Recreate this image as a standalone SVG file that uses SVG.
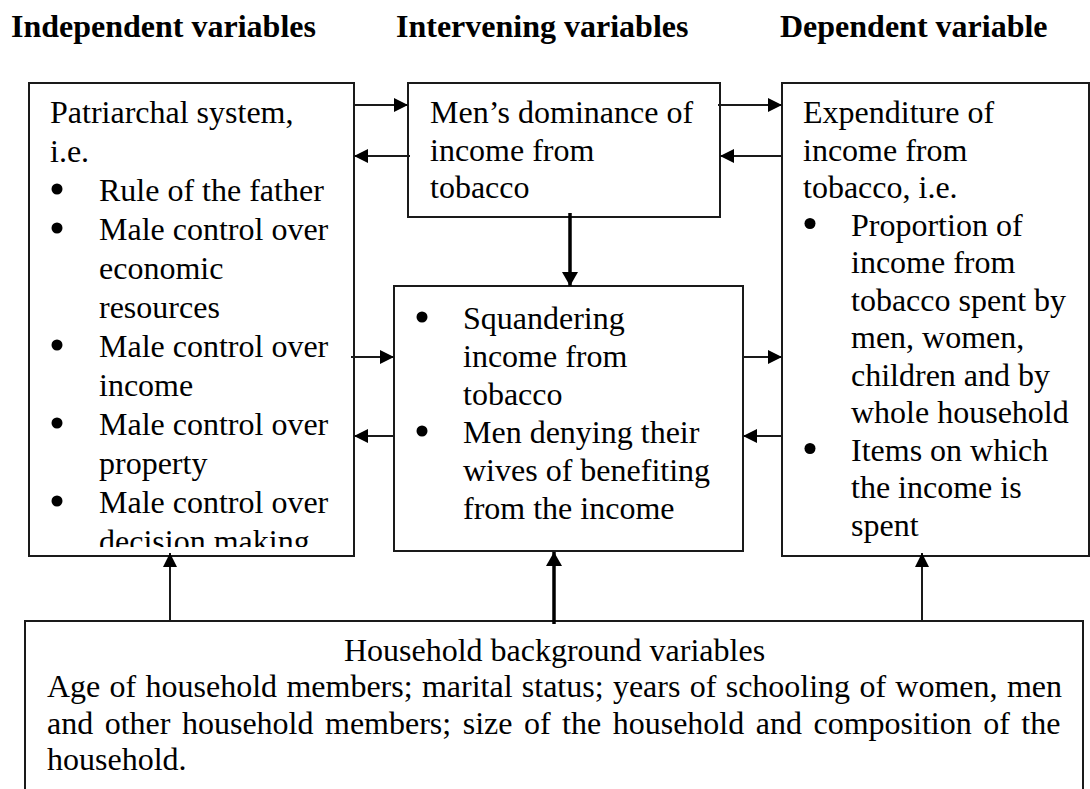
<svg xmlns="http://www.w3.org/2000/svg" width="1090" height="789" viewBox="0 0 1090 789" font-family="'Liberation Serif', 'Times New Roman', Tinos, 'DejaVu Serif', serif">
<style>
text{font-family:'Liberation Serif','Times New Roman',Tinos,'DejaVu Serif',serif}
.hdr{font-weight:bold;font-size:32px;fill:#000}
.t{font-size:32px;fill:#000}
.dot{fill:#000}
.box{fill:#fff;stroke:#1a1a1a;stroke-width:2}
.ln{fill:none;stroke:#1a1a1a;stroke-width:2}
.thick{fill:none;stroke:#000;stroke-width:3.5}
</style>
<defs>
<marker id="ah" markerUnits="userSpaceOnUse" markerWidth="15" markerHeight="15" refX="14" refY="7" orient="auto">
<path d="M0,0 L14,7 L0,14 z" fill="#000"/>
</marker>
<marker id="ahb" markerUnits="userSpaceOnUse" markerWidth="17" markerHeight="17" refX="14" refY="8" orient="auto">
<path d="M0,0 L14,8 L0,16 z" fill="#000"/>
</marker>
<clipPath id="c1"><rect x="29" y="83" width="325" height="464"/></clipPath>
</defs>
<rect width="1090" height="789" fill="#fff"/>

<g id="headers">
<text class="hdr" x="11" y="37">Independent variables</text>
<text class="hdr" x="396" y="37">Intervening variables</text>
<text class="hdr" x="780" y="37">Dependent variable</text>
</g>

<g id="independent">
<rect class="box" x="29" y="83" width="325" height="473"/>
<g clip-path="url(#c1)">
<text class="t" x="50" y="123">Patriarchal system,</text>
<text class="t" x="50" y="162">i.e.</text>
<circle class="dot" cx="57" cy="189" r="5.5"/>
<text class="t" x="99" y="201">Rule of the father</text>
<circle class="dot" cx="57" cy="228" r="5.5"/>
<text class="t" x="99" y="240">Male control over</text>
<text class="t" x="99" y="279">economic</text>
<text class="t" x="99" y="318">resources</text>
<circle class="dot" cx="57" cy="345" r="5.5"/>
<text class="t" x="99" y="357">Male control over</text>
<text class="t" x="99" y="396">income</text>
<circle class="dot" cx="57" cy="423" r="5.5"/>
<text class="t" x="99" y="435">Male control over</text>
<text class="t" x="99" y="474">property</text>
<circle class="dot" cx="57" cy="501" r="5.5"/>
<text class="t" x="99" y="513">Male control over</text>
<text class="t" x="99" y="552">decision making</text>
</g>
</g>

<g id="dominance">
<rect class="box" x="408" y="83" width="312" height="134"/>
<text class="t" x="430" y="123">Men’s dominance of</text>
<text class="t" x="430" y="161">income from</text>
<text class="t" x="430" y="198">tobacco</text>
</g>

<g id="squandering">
<rect class="box" x="394" y="286" width="349" height="265"/>
<circle class="dot" cx="422" cy="317" r="5.5"/>
<text class="t" x="463" y="329">Squandering</text>
<text class="t" x="463" y="367">income from</text>
<text class="t" x="463" y="405">tobacco</text>
<circle class="dot" cx="422" cy="431" r="5.5"/>
<text class="t" x="463" y="443">Men denying their</text>
<text class="t" x="463" y="481">wives of benefiting</text>
<text class="t" x="463" y="519">from the income</text>
</g>

<g id="expenditure">
<rect class="box" x="782" y="83" width="307" height="473"/>
<text class="t" x="803" y="123">Expenditure of</text>
<text class="t" x="803" y="160.5">income from</text>
<text class="t" x="803" y="198">tobacco, i.e.</text>
<circle class="dot" cx="810" cy="223.5" r="5.5"/>
<text class="t" x="851" y="235.5">Proportion of</text>
<text class="t" x="851" y="273">income from</text>
<text class="t" x="851" y="310.5">tobacco spent by</text>
<text class="t" x="851" y="348">men, women,</text>
<text class="t" x="851" y="385.5">children and by</text>
<text class="t" x="851" y="423">whole household</text>
<circle class="dot" cx="810" cy="448.5" r="5.5"/>
<text class="t" x="851" y="460.5">Items on which</text>
<text class="t" x="851" y="498">the income is</text>
<text class="t" x="851" y="535.5">spent</text>
</g>

<g id="background">
<rect class="box" x="25" y="621" width="1058" height="220"/>
<text class="t" x="554.5" y="661" text-anchor="middle">Household background variables</text>
<text class="t" x="47" y="697" word-spacing="1.3">Age of household members; marital status; years of schooling of women, men</text>
<text class="t" x="47" y="733.5" word-spacing="3.5">and other household members; size of the household and composition of the</text>
<text class="t" x="47" y="770">household.</text>
</g>

<g id="connectors">
<line class="ln" x1="353" y1="105" x2="408" y2="105" marker-end="url(#ah)"/>
<line class="ln" x1="410" y1="156" x2="354" y2="156" marker-end="url(#ah)"/>
<line class="ln" x1="351" y1="357" x2="394" y2="357" marker-end="url(#ah)"/>
<line class="ln" x1="394" y1="436" x2="354" y2="436" marker-end="url(#ah)"/>
<line class="ln" x1="718" y1="105" x2="782" y2="105" marker-end="url(#ah)"/>
<line class="ln" x1="782" y1="156" x2="720" y2="156" marker-end="url(#ah)"/>
<line class="ln" x1="743" y1="357" x2="782" y2="357" marker-end="url(#ah)"/>
<line class="ln" x1="782" y1="436" x2="743" y2="436" marker-end="url(#ah)"/>
<line class="thick" x1="570" y1="213" x2="570" y2="286" marker-end="url(#ahb)"/>
<line class="ln" x1="170" y1="621" x2="170" y2="553" marker-end="url(#ah)"/>
<line class="thick" x1="554" y1="624" x2="554" y2="552" marker-end="url(#ahb)"/>
<line class="ln" x1="922" y1="621" x2="922" y2="553" marker-end="url(#ah)"/>
</g>
</svg>
